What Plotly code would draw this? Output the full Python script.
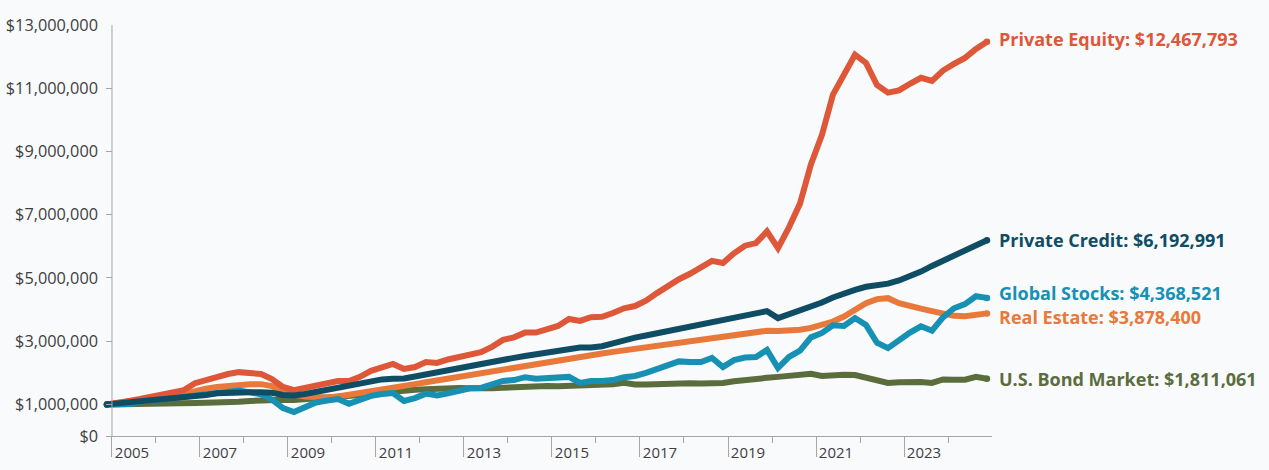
import plotly.graph_objects as go

# Quarterly growth of $1,000,000, Dec 2004 .. Dec 2024 (81 quarter-ends)
quarters = [2004.886 + 0.25 * i for i in range(81)]

private_equity = [
    1.00, 1.04, 1.11, 1.17, 1.23, 1.30, 1.38, 1.45, 1.67, 1.77,
    1.90, 1.96, 2.02, 2.01, 1.96, 1.80, 1.55, 1.45, 1.52, 1.60,
    1.70, 1.74, 1.74, 1.87, 2.06, 2.18, 2.28, 2.12, 2.18, 2.34,
    2.31, 2.42, 2.51, 2.58, 2.65, 2.82, 3.04, 3.12, 3.27, 3.27,
    3.40, 3.48, 3.70, 3.64, 3.76, 3.77, 3.89, 4.04, 4.11, 4.28,
    4.52, 4.75, 4.96, 5.13, 5.33, 5.54, 5.47, 5.78, 6.02, 6.10,
    6.47, 5.94, 6.60, 7.35, 8.60, 9.53, 10.80, 11.40, 12.06, 11.80,
    11.10, 10.86, 10.93, 11.14, 11.33, 11.23, 11.56, 11.77, 11.96, 12.24,
    12.467793,
]
private_credit = [
    1.00, 1.03, 1.06, 1.08, 1.11, 1.15, 1.19, 1.23, 1.26, 1.30,
    1.35, 1.37, 1.38, 1.38, 1.38, 1.37, 1.30, 1.28, 1.33, 1.40,
    1.46, 1.53, 1.60, 1.67, 1.74, 1.79, 1.81, 1.82, 1.88, 1.95,
    2.01, 2.08, 2.14, 2.21, 2.28, 2.35, 2.41, 2.47, 2.53, 2.59,
    2.62, 2.70, 2.76, 2.80, 2.80, 2.84, 2.93, 3.03, 3.11, 3.18,
    3.25, 3.32, 3.40, 3.48, 3.57, 3.63, 3.67, 3.75, 3.82, 3.88,
    3.95, 3.73, 3.85, 3.95, 4.08, 4.22, 4.38, 4.52, 4.62, 4.72,
    4.77, 4.82, 4.92, 5.05, 5.20, 5.38, 5.55, 5.72, 5.88, 6.04,
    6.192991,
]
global_stocks = [
    1.00, 0.99, 1.01, 1.08, 1.12, 1.15, 1.20, 1.25, 1.30, 1.35,
    1.38, 1.42, 1.44, 1.38, 1.32, 1.15, 0.88, 0.76, 0.92, 1.06,
    1.12, 1.17, 1.02, 1.17, 1.27, 1.33, 1.36, 1.11, 1.20, 1.34,
    1.28, 1.35, 1.44, 1.51, 1.52, 1.64, 1.74, 1.77, 1.86, 1.81,
    1.84, 1.87, 1.87, 1.68, 1.74, 1.74, 1.77, 1.86, 1.90, 2.00,
    2.12, 2.22, 2.36, 2.34, 2.34, 2.47, 2.18, 2.40, 2.48, 2.50,
    2.72, 2.15, 2.50, 2.70, 3.12, 3.26, 3.50, 3.48, 3.73, 3.51,
    2.95, 2.78, 3.03, 3.27, 3.47, 3.33, 3.75, 4.04, 4.17, 4.42,
    4.368521,
]
real_estate = [
    1.00, 1.04, 1.08, 1.13, 1.18, 1.23, 1.28, 1.33, 1.43, 1.50,
    1.55, 1.59, 1.62, 1.64, 1.64, 1.58, 1.42, 1.30, 1.25, 1.22,
    1.22, 1.25, 1.30, 1.36, 1.42, 1.47, 1.53, 1.58, 1.64, 1.70,
    1.76, 1.82, 1.88, 1.94, 2.00, 2.05, 2.10, 2.16, 2.21, 2.27,
    2.33, 2.40, 2.46, 2.51, 2.56, 2.61, 2.66, 2.71, 2.76, 2.81,
    2.86, 2.91, 2.96, 3.01, 3.06, 3.11, 3.16, 3.21, 3.26, 3.30,
    3.33, 3.32, 3.33, 3.36, 3.42, 3.50, 3.62, 3.78, 4.00, 4.20,
    4.33, 4.36, 4.20, 4.10, 4.03, 3.95, 3.86, 3.80, 3.79, 3.82,
    3.8784,
]
us_bond = [
    1.00, 1.00, 1.01, 1.00, 1.01, 1.00, 1.02, 1.03, 1.04, 1.05,
    1.05, 1.06, 1.08, 1.11, 1.13, 1.13, 1.15, 1.14, 1.16, 1.18,
    1.22, 1.24, 1.27, 1.30, 1.34, 1.38, 1.42, 1.45, 1.46, 1.48,
    1.50, 1.51, 1.52, 1.51, 1.50, 1.51, 1.53, 1.55, 1.56, 1.57,
    1.58, 1.57, 1.58, 1.57, 1.58, 1.61, 1.64, 1.68, 1.63, 1.63,
    1.65, 1.67, 1.67, 1.67, 1.66, 1.66, 1.68, 1.73, 1.78, 1.81,
    1.84, 1.87, 1.91, 1.96, 1.97, 1.90, 1.93, 1.94, 1.93, 1.85,
    1.75, 1.68, 1.70, 1.72, 1.71, 1.68, 1.79, 1.78, 1.78, 1.87,
    1.811061,
]

series_names = ["U.S. Bond Market", "Real Estate", "Global Stocks", "Private Equity", "Private Credit"]
series_values = [us_bond, real_estate, global_stocks, private_equity, private_credit]
series_colors = ["#5B6D3D", "#E8793A", "#1690B3", "#DD5738", "#0F4D64"]
label_shift = [0, -4, 5, 3, 0]

y_tick_vals = [0, 1e6, 3e6, 5e6, 7e6, 9e6, 11e6, 13e6]
y_tick_text = ["$0", "$1,000,000", "$3,000,000", "$5,000,000", "$7,000,000",
               "$9,000,000", "$11,000,000", "$13,000,000"]
x_major_years = [2005, 2007, 2009, 2011, 2013, 2015, 2017, 2019, 2021, 2023]
x_minor_years = list(range(2006, 2025))

FONT = "Open Sans"
BG = "#F8FAFC"

fig = go.Figure()
for name, vals, color in zip(series_names, series_values, series_colors):
    yv = [v * 1e6 for v in vals]
    fig.add_trace(go.Scatter(
        x=quarters, y=yv, mode="lines", name=name,
        line=dict(color=color, width=6),
        hoverinfo="skip",
    ))
    # rounded ends
    fig.add_trace(go.Scatter(
        x=[quarters[0], quarters[-1]], y=[yv[0], yv[-1]], mode="markers",
        marker=dict(color=color, size=6.5), hoverinfo="skip", cliponaxis=False,
    ))

for name, vals, color, sh in zip(series_names, series_values, series_colors, label_shift):
    fig.add_annotation(
        x=quarters[-1], y=vals[-1] * 1e6, xref="x", yref="y",
        text=f"<b>{name}: ${vals[-1]*1e6:,.0f}</b>",
        showarrow=False, xanchor="left", yanchor="middle",
        xshift=10, yshift=sh,
        font=dict(family=FONT, size=18, color=color),
    )

# y-axis line at 2005
fig.add_shape(type="line", xref="x", yref="paper", x0=2005, x1=2005, y0=0, y1=1,
              line=dict(color="#A6A6A6", width=1))

fig.update_layout(
    width=1269, height=470,
    margin=dict(l=106, r=277, t=25, b=34, autoexpand=False),
    paper_bgcolor=BG, plot_bgcolor=BG,
    showlegend=False,
    font=dict(family=FONT, size=16, color="#404040"),
)
fig.update_xaxes(
    range=[2004.864, 2025.0], automargin=False,
    tickmode="array", tickvals=x_major_years, ticktext=[str(y) for y in x_major_years],
    ticks="outside", ticklen=20, tickcolor="#A6A6A6", tickwidth=1,
    ticklabelshift=20, ticklabelstandoff=-17,
    minor=dict(tickmode="array", tickvals=x_minor_years, ticks="outside", ticklen=6,
               tickcolor="#A6A6A6", showgrid=False),
    showline=True, linecolor="#A6A6A6", linewidth=1,
    showgrid=False, zeroline=False,
    tickfont=dict(family=FONT, size=15, color="#404040"),
)
fig.update_yaxes(
    range=[0, 13e6], automargin=False,
    tickmode="array", tickvals=y_tick_vals, ticktext=y_tick_text,
    ticks="inside", ticklen=6, tickcolor="#A6A6A6",
    ticklabelstandoff=7,
    showline=False, showgrid=False, zeroline=False,
    tickfont=dict(family=FONT, size=16.3, color="#404040"),
)

fig.write_html(
    "out.html",
    config={"displayModeBar": False},
    post_script=f"document.body.style.margin='0';document.body.style.background='{BG}';",
)
